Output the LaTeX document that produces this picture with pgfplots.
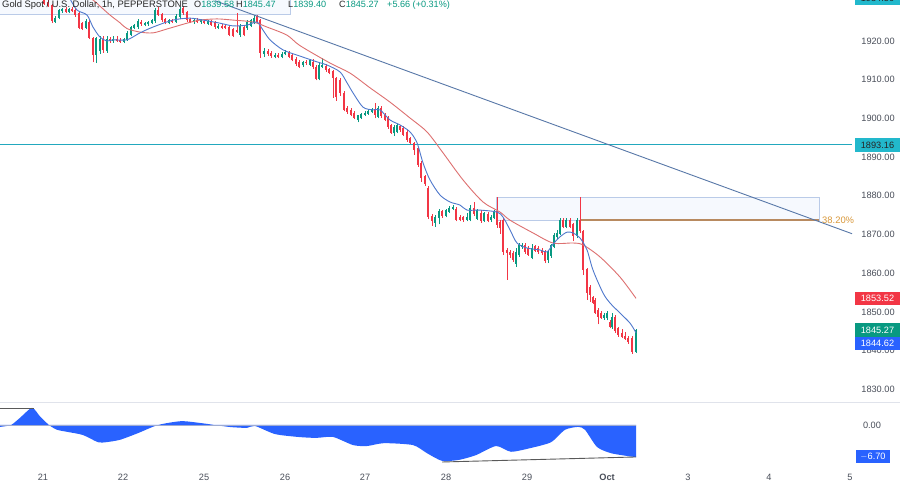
\documentclass[border=0pt]{standalone}
\usepackage{pgfplots}
\pgfplotsset{compat=1.18}
\usepackage{pgfplotstable}
\usepackage{fontspec}
\setmainfont{Liberation Sans}
\definecolor{cgreen}{HTML}{089981}
\definecolor{cred}{HTML}{F23645}
\definecolor{mablue}{HTML}{4F78CC}
\definecolor{mared}{HTML}{DD7070}
\definecolor{trend}{HTML}{5878A8}
\definecolor{hline}{HTML}{22A8BE}
\definecolor{hbox}{HTML}{22B8CC}
\definecolor{boxfill}{HTML}{F6F9FE}
\definecolor{boxedge}{HTML}{BACBE8}
\definecolor{fib}{HTML}{B88A60}
\definecolor{fibtxt}{HTML}{D9983A}
\definecolor{ind}{HTML}{2962FF}
\definecolor{axtxt}{HTML}{4A4F5A}
\definecolor{sep}{HTML}{E0E3EB}

\pgfplotstableread{
x o h l c
55 1925.0 1926.4 1924.6 1926.0
59 1926.0 1928.3 1925.6 1927.9
62 1927.8 1928.6 1927.3 1928.2
69 1927.6 1928.6 1927.2 1928.3
86 1923.3 1925.7 1923.0 1925.2
96 1916.4 1921.0 1914.3 1920.8
100 1917.4 1921.4 1916.6 1920.6
107 1917.5 1921.3 1917.0 1920.5
113 1920.0 1921.3 1919.6 1920.6
124 1919.8 1920.8 1919.4 1920.4
127 1920.3 1922.5 1920.0 1922.1
131 1921.6 1924.0 1921.2 1923.6
134 1923.4 1924.5 1923.0 1924.1
138 1923.6 1925.6 1923.2 1925.1
145 1924.2 1925.0 1923.8 1924.6
148 1924.3 1925.2 1924.0 1924.9
152 1924.6 1925.8 1924.3 1925.4
155 1925.1 1928.6 1924.7 1928.0
169 1924.6 1925.6 1924.3 1925.3
176 1924.9 1926.9 1924.6 1926.4
180 1926.2 1928.8 1925.8 1928.3
194 1924.9 1925.8 1924.5 1925.4
201 1924.8 1925.6 1924.5 1925.3
208 1924.5 1925.5 1924.2 1925.1
218 1923.4 1924.4 1923.0 1924.0
240 1921.5 1924.4 1921.0 1924.0
247 1923.3 1925.4 1922.9 1925.0
251 1924.0 1925.8 1923.6 1925.3
254 1924.7 1926.8 1924.3 1926.0
264 1916.6 1918.2 1915.8 1917.4
275 1915.9 1916.9 1915.5 1916.5
282 1915.9 1917.2 1915.5 1916.7
285 1916.6 1917.7 1916.3 1917.2
303 1913.7 1914.9 1913.3 1914.6
310 1913.9 1915.4 1913.5 1915.0
319 1910.3 1914.4 1909.8 1913.8
322 1913.3 1915.6 1913.0 1913.9
358 1899.6 1901.0 1899.0 1900.8
361 1900.1 1901.4 1899.8 1901.1
365 1900.9 1901.9 1900.6 1901.5
368 1901.2 1902.3 1900.9 1901.9
372 1901.6 1902.8 1901.3 1902.3
378 1900.4 1903.2 1900.0 1902.8
394 1896.1 1898.2 1895.4 1897.7
397 1896.4 1898.6 1896.1 1898.2
435 1873.0 1875.0 1872.0 1874.6
439 1874.3 1876.6 1872.6 1876.0
446 1874.8 1876.6 1874.4 1876.2
449 1875.9 1877.3 1875.6 1876.9
453 1876.6 1877.6 1876.3 1877.1
467 1873.8 1875.6 1873.4 1874.4
470 1873.8 1877.6 1873.4 1876.9
477 1874.1 1876.6 1873.7 1876.2
484 1873.6 1875.9 1873.2 1875.5
491 1873.7 1875.0 1873.3 1874.6
494 1874.3 1876.4 1874.0 1876.0
516 1862.4 1866.6 1861.6 1865.6
519 1864.7 1867.7 1864.3 1867.3
522 1866.8 1867.8 1866.3 1867.4
532 1864.0 1867.6 1863.6 1866.6
548 1863.4 1865.8 1862.6 1865.4
551 1864.5 1867.5 1864.0 1867.2
554 1866.8 1870.3 1866.4 1869.9
557 1869.4 1871.1 1868.8 1870.4
560 1870.2 1874.2 1869.8 1873.8
566 1872.0 1874.2 1871.6 1873.8
577 1869.6 1874.2 1869.2 1873.8
604 1848.5 1849.8 1848.0 1849.3
607 1848.3 1850.2 1847.8 1849.8
612 1846.0 1849.6 1845.6 1848.8
636 1839.58 1845.47 1839.40 1845.27
}\greentab

\pgfplotstableread{
x o h l c
44 1931.0 1931.5 1929.3 1929.6
48 1930.0 1930.6 1928.8 1929.0
52 1929.3 1929.6 1924.6 1925.1
66 1928.2 1928.8 1927.3 1927.6
72 1928.3 1928.8 1927.5 1927.8
75 1928.0 1928.5 1926.3 1926.8
79 1927.2 1927.6 1923.0 1923.4
82 1924.6 1925.0 1922.8 1923.2
89 1925.0 1925.4 1920.5 1920.8
93 1920.8 1921.0 1914.5 1916.4
103 1920.6 1921.2 1917.0 1917.6
110 1920.5 1921.0 1919.6 1920.0
117 1920.6 1921.4 1919.8 1920.1
120 1920.2 1920.9 1919.5 1919.8
141 1924.8 1925.3 1924.0 1924.3
158 1928.0 1928.8 1926.4 1926.7
162 1926.9 1927.3 1925.0 1925.4
165 1925.6 1926.0 1924.3 1924.6
172 1925.3 1925.8 1924.6 1924.9
183 1928.4 1929.0 1926.8 1927.2
187 1927.4 1927.8 1925.0 1925.4
190 1925.6 1926.0 1924.6 1925.0
197 1925.3 1925.9 1924.6 1924.9
204 1925.2 1925.8 1924.3 1924.6
211 1925.1 1925.5 1923.9 1924.2
215 1924.8 1925.2 1923.2 1923.5
222 1924.0 1924.5 1923.0 1923.4
225 1924.0 1924.4 1923.0 1923.3
229 1923.6 1924.0 1921.2 1921.6
233 1923.0 1923.4 1921.0 1921.4
237 1922.8 1927.2 1922.0 1922.4
244 1923.6 1924.0 1921.2 1921.6
257 1926.4 1926.6 1924.6 1925.0
260 1925.4 1925.8 1915.6 1916.8
268 1917.4 1918.0 1916.2 1916.6
271 1916.8 1917.4 1915.7 1916.0
278 1916.4 1916.8 1915.6 1915.9
289 1917.1 1917.5 1915.5 1915.8
292 1916.5 1917.0 1914.7 1915.0
296 1915.4 1915.8 1913.6 1914.0
299 1914.6 1915.0 1913.0 1913.4
306 1914.6 1915.1 1913.8 1914.2
313 1914.6 1915.3 1912.7 1913.2
316 1913.4 1913.9 1909.8 1910.2
326 1913.5 1914.0 1912.0 1912.4
329 1912.7 1913.0 1911.4 1911.7
333 1912.2 1912.6 1905.3 1910.4
336 1910.4 1910.8 1904.6 1905.6
340 1910.0 1910.5 1905.8 1906.6
344 1906.6 1907.0 1901.8 1902.2
347 1902.8 1903.2 1901.2 1901.6
351 1902.2 1902.6 1900.5 1900.9
354 1901.4 1901.8 1899.8 1900.1
375 1902.3 1904.0 1900.0 1900.8
381 1902.8 1903.2 1900.2 1900.6
385 1900.9 1901.3 1899.3 1899.6
388 1900.1 1900.5 1897.3 1897.7
391 1898.2 1898.6 1896.0 1896.3
400 1898.0 1898.4 1896.6 1897.0
403 1897.6 1898.0 1895.4 1895.7
407 1896.5 1896.9 1894.0 1894.4
410 1895.0 1895.3 1893.3 1893.6
414 1893.6 1894.0 1890.6 1891.8
418 1892.3 1892.7 1887.5 1888.0
421 1888.5 1889.0 1883.6 1884.6
425 1885.0 1885.4 1882.6 1883.0
428 1882.0 1882.4 1874.0 1874.6
432 1874.8 1875.2 1872.3 1873.6
442 1876.0 1876.4 1874.3 1874.7
456 1876.7 1877.1 1873.4 1873.8
460 1874.5 1875.0 1873.4 1873.8
463 1874.4 1874.8 1873.3 1873.8
474 1876.9 1878.5 1874.8 1875.2
481 1875.6 1876.4 1873.0 1873.5
488 1875.3 1875.8 1873.1 1873.5
497 1876.0 1879.7 1871.8 1872.5
500 1873.3 1873.8 1870.2 1871.7
503 1873.8 1874.2 1864.8 1865.5
507 1866.0 1866.4 1858.3 1865.2
510 1865.4 1865.9 1863.9 1864.6
513 1865.3 1865.7 1863.0 1863.4
525 1867.3 1867.8 1865.0 1865.4
528 1866.6 1867.0 1864.5 1864.8
535 1867.0 1867.4 1865.5 1865.8
538 1866.6 1867.0 1865.0 1865.4
542 1866.0 1866.4 1864.8 1865.1
545 1865.6 1866.0 1862.6 1863.2
563 1873.8 1874.2 1871.6 1872.0
570 1873.8 1874.2 1871.6 1872.0
573 1872.6 1873.0 1868.2 1869.6
580 1873.8 1879.7 1870.4 1870.8
583 1870.8 1871.2 1859.5 1860.8
587 1861.0 1861.4 1853.2 1855.0
590 1856.4 1857.0 1852.6 1854.3
593 1853.8 1854.2 1852.0 1852.4
595 1853.1 1853.5 1849.4 1849.8
598 1850.5 1850.9 1846.8 1848.8
601 1849.8 1850.2 1848.2 1848.5
610 1847.4 1847.8 1845.8 1846.2
615 1848.8 1849.2 1844.5 1845.0
618 1845.8 1846.2 1843.6 1844.0
622 1844.6 1845.6 1843.2 1843.6
625 1843.8 1844.8 1842.8 1843.0
628 1843.3 1843.8 1841.8 1842.2
632 1843.3 1843.7 1839.2 1839.6
}\redtab

\newcommand{\tvfont}{\fontsize{9.2bp}{11bp}\selectfont}

\begin{document}
\begin{tikzpicture}[x=1bp,y=1bp]
\useasboundingbox (0,0) rectangle (900,484);
\fill[white] (0,0) rectangle (900,484);

\begin{axis}[at={(0bp,82bp)}, anchor=south west, scale only axis,
  width=852bp, height=402bp,
  xmin=0, xmax=852, ymin=1826.718, ymax=1930.594,
  axis line style={draw=none}, major tick length=0pt,
  xtick=\empty,
  ytick={1830,1840,1850,1860,1870,1880,1890,1900,1910,1920},
  yticklabels={1830.00,1840.00,1850.00,1860.00,1870.00,1880.00,1890.00,1900.00,1910.00,1920.00},
  yticklabel pos=right,
  yticklabel style={anchor=center, xshift=26bp, font=\tvfont, text=axtxt}]

\draw[boxedge, fill=boxfill, line width=0.6bp] (axis cs:-2,1934) rectangle (axis cs:290,1926.97);
\draw[boxedge, fill=boxfill, line width=0.6bp] (axis cs:496,1879.69) rectangle (axis cs:819,1873.75);
\addplot[hline, line width=0.8bp] coordinates {(0,1893.16) (852,1893.16)};

% candles: wicks and bodies
\addplot[cgreen, line width=0.8bp, quiver={u=0, v=\thisrow{h}-\thisrow{l}}] table[x=x, y=l] {\greentab};
\addplot[cgreen, line width=2.4bp, quiver={u=0, v=\thisrow{c}-\thisrow{o}}] table[x=x, y=o] {\greentab};
\addplot[cred, line width=0.8bp, quiver={u=0, v=\thisrow{h}-\thisrow{l}}] table[x=x, y=l] {\redtab};
\addplot[cred, line width=2.4bp, quiver={u=0, v=\thisrow{c}-\thisrow{o}}] table[x=x, y=o] {\redtab};

\addplot[fib, line width=1.2bp] coordinates {(581,1873.75) (819,1873.75)};

% moving averages
\addplot[mared, line width=0.9bp, smooth, tension=0.5] coordinates {
(80,1932.4)(93,1930.6)(100,1929.0)(110,1926.7)(120,1924.7)(127,1923.2)(140,1922.3)(153,1922.1)(167,1923.1)(187,1924.6)(200,1925.4)(217,1925.7)(233,1925.4)(253,1924.9)(267,1923.6)(287,1921.5)(300,1918.8)(330,1914.3)(350,1911.7)(370,1907.9)(390,1904.2)(410,1900.1)(427,1896.5)(443,1891.1)(463,1884.1)(483,1878.4)(500,1875.8)(510,1873.7)(533,1870.4)(553,1867.8)(573,1867.8)(583,1867.3)(600,1864.2)(620,1859.0)(636,1853.5)};
\addplot[mablue, line width=0.9bp, smooth, tension=0.5] coordinates {
(70,1930.9)(77,1928.0)(87,1926.7)(93,1923.6)(100,1921.0)(107,1920.0)(113,1920.3)(127,1920.3)(140,1922.1)(153,1923.6)(173,1925.4)(190,1925.9)(203,1925.4)(220,1924.6)(233,1923.9)(247,1924.1)(257,1924.9)(263,1922.8)(270,1920.3)(283,1917.7)(300,1916.1)(317,1914.6)(327,1913.8)(340,1912.0)(347,1909.2)(353,1906.6)(363,1902.9)(373,1902.2)(380,1902.2)(390,1899.6)(400,1898.3)(410,1896.5)(417,1893.7)(423,1888.5)(430,1884.1)(440,1880.2)(450,1878.4)(460,1877.6)(467,1876.3)(480,1876.3)(497,1875.8)(503,1874.5)(510,1871.2)(517,1867.8)(527,1866.5)(540,1866.0)(547,1865.5)(553,1867.5)(560,1869.4)(567,1870.6)(573,1870.4)(580,1869.1)(587,1866.0)(593,1860.8)(603,1854.9)(610,1852.3)(620,1849.7)(630,1847.1)(636,1844.6)};

\addplot[trend, line width=0.9bp] coordinates {(215,1930.4) (852,1870.2)};
\end{axis}

\begin{axis}[at={(0bp,14bp)}, anchor=south west, scale only axis,
  width=852bp, height=68bp,
  xmin=0, xmax=852, ymin=-9.414, ymax=4.812,
  axis line style={draw=none}, major tick length=0pt,
  ytick=\empty,
  xtick={43,123,204,285,365,446,527,607,688,769,850},
  xticklabels={21,22,25,26,27,28,29,\textbf{Oct},3,4,5},
  xticklabel style={anchor=north, inner sep=0pt, yshift=-4bp, font=\tvfont, text=axtxt}]
\addplot[fill=ind, draw=none, smooth, tension=0.4] coordinates {
(0,-0.4)(11,0)(20,1.5)(32,3.6)(40,1.8)(49,0)(57,-1.0)(69,-1.5)(83,-2.1)(98,-3.6)(106,-3.6)(120,-3.1)(138,-1.7)(158,0)(181,0.8)(201,0.4)(229,-0.4)(247,-0.6)(255,-0.2)(275,-1.9)(298,-2.5)(316,-2.7)(333,-2.5)(353,-4.2)(367,-4.4)(384,-3.8)(413,-4.2)(427,-5.9)(442,-7.5)(459,-7.3)(476,-6.3)(496,-4.4)(511,-5.6)(531,-4.8)(551,-3.6)(565,-1.0)(578,-0.4)(585,-1.0)(597,-4.6)(611,-5.9)(631,-6.6)(636,-6.7)} \closedcycle;
\addplot[ind!40!gray!60, line width=0.6bp] coordinates {(0,0) (636,0)};
\addplot[black!65, line width=0.9bp] coordinates {(0,3.56) (34,3.56)};
\addplot[black!65, line width=0.9bp] coordinates {(442,-7.74) (636,-6.69)};
\end{axis}

\draw[sep, line width=0.8bp] (0,82) -- (900,82);

% title
\node[anchor=base west, inner sep=0, font=\fontsize{9.4bp}{10bp}\selectfont, text=black!85] at (2,476) {Gold Spot / U.S. Dollar, 1h, PEPPERSTONE};
\begin{scope}[every node/.style={anchor=base west, inner sep=0, font=\fontsize{9.1bp}{10bp}\selectfont, text=black!85}]
\node at (194,476) {O\textcolor{cgreen}{1839.58}};
\node at (236,476) {H\textcolor{cgreen}{1845.47}};
\node at (288,476) {L\textcolor{cgreen}{1839.40}};
\node at (339,476) {C\textcolor{cgreen}{1845.27}};
\node at (387,476) {\textcolor{cgreen}{+5.66 (+0.31\%)}};
\end{scope}

% fib label
\node[anchor=west, inner sep=0, font=\fontsize{9.4bp}{10bp}\selectfont, text=fibtxt] at (822,264) {38.20\%};

% price labels
\begin{scope}[every node/.style={minimum width=45bp, minimum height=13.5bp, inner sep=0, font=\tvfont}]
\node[fill=hbox, text=black!85] at (877.5,486) {1934.50};
\node[fill=hbox, text=black!85] at (877.5,339.1) {1893.16};
\node[fill=cred, text=white] at (877.5,185.7) {1853.52};
\node[fill=cgreen, text=white] at (877.5,154) {1845.27};
\node[fill=ind, text=white] at (877.5,140.5) {1844.62};
\end{scope}
\node[inner sep=0, font=\tvfont, text=axtxt] at (872,59) {0.00};
\node[fill=ind, text=white, minimum width=34bp, minimum height=13.5bp, inner sep=0, font=\tvfont] at (873,27.5) {$-$6.70};
\end{tikzpicture}
\end{document}
